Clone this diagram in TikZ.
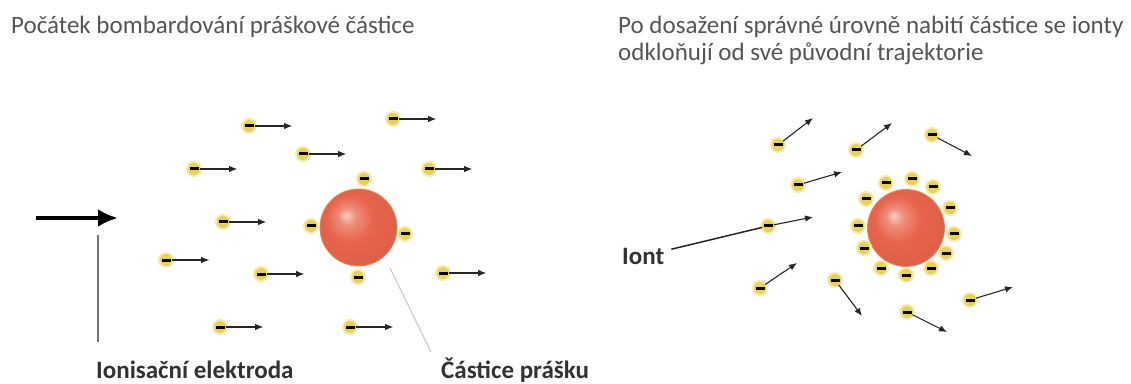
\documentclass[tikz,border=0pt]{standalone}
\usepackage{fontspec}
\setmainfont{Carlito}
\usetikzlibrary{arrows.meta, positioning}

\definecolor{iony}{RGB}{232,210,80}
\definecolor{partred}{RGB}{232,100,76}
\definecolor{parthi}{RGB}{246,205,192}
\definecolor{partrim}{RGB}{240,135,70}
\definecolor{titlegray}{RGB}{85,85,85}
\definecolor{lblgray}{RGB}{50,50,50}

% shiny ball for the powder particle
\pgfdeclareradialshading{particle}{\pgfpoint{-8bp}{8bp}}{%
  color(0bp)=(parthi); color(6bp)=(partred!75!white); color(15bp)=(partred);
  color(30bp)=(partred!95!black); color(40bp)=(partred!85!black); color(50bp)=(partred!85!black)}

\tikzset{
  ion/.style={circle, inner sep=0pt, minimum size=12pt, fill=iony,
    preaction={draw=iony!45, line width=4pt},
    path picture={\fill[black] ([xshift=-4.5pt,yshift=-1.5pt]path picture bounding box.center)
      rectangle ([xshift=4.5pt,yshift=1.5pt]path picture bounding box.center);}},
  particle/.style={circle, inner sep=0pt, minimum size=77pt, shade, shading=particle,
    draw=partrim, line width=0.8pt},
  move/.style={draw=black!85, line width=1.1pt, -{Latex[length=8pt,width=6.5pt]}},
  push/.style={line width=4.5pt, -{Latex[length=20pt,width=18pt]}},
  title/.style={anchor=base west, inner sep=0pt, text=titlegray,
    font=\fontsize{25}{27}\selectfont},
  lbl/.style={anchor=base west, text=lblgray, font=\fontsize{25}{28}\selectfont\bfseries},
}

\begin{document}
\begin{tikzpicture}[x=1pt, y=1pt]
        \useasboundingbox[fill=white] (0,0) rectangle (1131,383);

        % left half: ions flying straight at the particle
        \node[title] (t1) at (11,349) {Počátek bombardování práškové částice};

        \coordinate (g1) at (36,165);
        \coordinate (g2) at (118,165);
        \draw[push] (g1) -- (g2);

        \node[lbl, inner sep=0pt] (elektroda) at (96,5) {Ionisační elektroda};
        \coordinate (e1) at (98,148);
        \coordinate (e2) at (98,41);
        \draw[black!55, line width=2pt] (e1) -- (e2);

        \node[lbl, inner sep=0pt] (prasek) at (441,5) {Částice prášku};
        \coordinate (c1) at (390,115);
        \coordinate (c2) at (431,31);
        \draw[black!22, line width=1pt] (c1) -- (c2);

        \node[particle] (p1) at (358.5,155.5) {};
        \node[ion] (s1) at (364,204) {};
        \node[ion] (s2) at (311,157) {};
        \node[ion] (s3) at (405,149) {};
        \node[ion] (s4) at (358,106) {};

        \node[ion] (a1) at (249,257) {};  \coordinate[right=37pt of a1] (a1x);
        \node[ion] (a2) at (393,264) {};  \coordinate[right=37pt of a2] (a2x);
        \node[ion] (a3) at (303,229) {};  \coordinate[right=37pt of a3] (a3x);
        \node[ion] (a4) at (194,214) {};  \coordinate[right=37pt of a4] (a4x);
        \node[ion] (a5) at (429,214) {};  \coordinate[right=37pt of a5] (a5x);
        \node[ion] (a6) at (223,161) {};  \coordinate[right=37pt of a6] (a6x);
        \node[ion] (a7) at (166,123) {};  \coordinate[right=37pt of a7] (a7x);
        \node[ion] (a8) at (261,109) {};  \coordinate[right=37pt of a8] (a8x);
        \node[ion] (a9) at (443,110) {};  \coordinate[right=37pt of a9] (a9x);
        \node[ion] (a10) at (220,56) {};  \coordinate[right=37pt of a10] (a10x);
        \node[ion] (a11) at (350,56) {};  \coordinate[right=37pt of a11] (a11x);

        \draw[move] (a1) -- (a1x);
        \draw[move] (a2) -- (a2x);
        \draw[move] (a3) -- (a3x);
        \draw[move] (a4) -- (a4x);
        \draw[move] (a5) -- (a5x);
        \draw[move] (a6) -- (a6x);
        \draw[move] (a7) -- (a7x);
        \draw[move] (a8) -- (a8x);
        \draw[move] (a9) -- (a9x);
        \draw[move] (a10) -- (a10x);
        \draw[move] (a11) -- (a11x);

        % right half: charged particle turns the ions away
        \node[title] (t2) at (618,349) {Po dosažení správné úrovně nabití částice se ionty};
        \node[title] (t3) at (618,322) {odkloňují od své původní trajektorie};

        \node[particle] (p2) at (906,155) {};
        \node[ion] (r1) at (886,200) {};
        \node[ion] (r2) at (912,204) {};
        \node[ion] (r3) at (933,196) {};
        \node[ion] (r4) at (950,175) {};
        \node[ion] (r5) at (954,149) {};
        \node[ion] (r6) at (946,130) {};
        \node[ion] (r7) at (931,115) {};
        \node[ion] (r8) at (906,108) {};
        \node[ion] (r9) at (881,115) {};
        \node[ion] (r10) at (864,135) {};
        \node[ion] (r11) at (858,157) {};
        \node[ion] (r12) at (866,184) {};

        \node[ion] (b1) at (778,238) {};  \coordinate (b1x) at (813,265);
        \node[ion] (b2) at (856,233) {};  \coordinate (b2x) at (892,260);
        \node[ion] (b3) at (932,248) {};  \coordinate (b3x) at (972,227);
        \node[ion] (b4) at (798,198) {};  \coordinate (b4x) at (842,211);
        \node[ion] (b5) at (768,157) {};  \coordinate (b5x) at (813,166);
        \node[ion] (b6) at (760,95) {};   \coordinate (b6x) at (797,120);
        \node[ion] (b7) at (835,103) {};  \coordinate (b7x) at (862,67);
        \node[ion] (b8) at (907,71) {};   \coordinate (b8x) at (947,51);
        \node[ion] (b9) at (970,83) {};   \coordinate (b9x) at (1013,96);

        \draw[move] (b1) -- (b1x);
        \draw[move] (b2) -- (b2x);
        \draw[move] (b3) -- (b3x);
        \draw[move] (b4) -- (b4x);
        \draw[move] (b5) -- (b5x);
        \draw[move] (b6) -- (b6x);
        \draw[move] (b7) -- (b7x);
        \draw[move] (b8) -- (b8x);
        \draw[move] (b9) -- (b9x);

        \node[lbl, inner sep=7pt] (iont) at (615,119) {Iont};
        \draw[black!85, line width=1.5pt] (iont) -- (b5);
    \end{tikzpicture}
\end{document}
